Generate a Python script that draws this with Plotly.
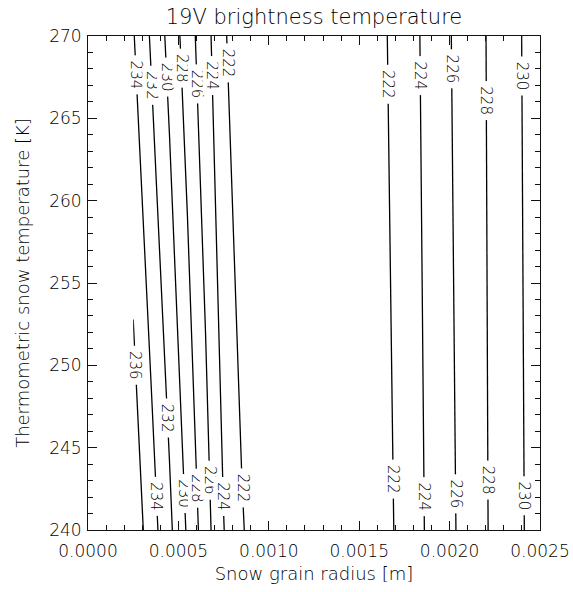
import numpy as np
import plotly.graph_objects as go

# Snow grain radius grid [m]
radius = [0.00025, 0.00035, 0.00045, 0.00055, 0.00065, 0.00075, 0.00085,
          0.00095, 0.00105, 0.00115, 0.00125, 0.00135, 0.00145, 0.00155,
          0.00165, 0.00175, 0.00185, 0.00195, 0.00205, 0.00215, 0.00225,
          0.00235, 0.00245, 0.0025]

# Thermometric snow temperature grid [K]
snow_temp = [240.0, 270.0]

# 19V brightness temperature [K] at 240 K snow temperature
tb_240 = [237.38, 234.91, 232.44, 229.76, 226.86, 224.06, 222.25,
          220.50, 219.90, 219.60, 219.60, 219.80, 220.20, 220.80,
          221.50, 222.71, 223.88, 225.03, 226.17, 227.32, 228.40,
          229.38, 230.36, 230.85]

# 19V brightness temperature [K] at 270 K snow temperature
tb_270 = [234.14, 231.75, 229.41, 226.99, 224.71, 222.39, 220.10,
          219.60, 219.40, 219.30, 219.40, 219.70, 220.20, 220.90,
          221.94, 223.05, 224.16, 225.34, 226.45, 227.48, 228.49,
          229.51, 230.52, 231.02]

# Contour levels
level_start, level_end, level_step = 222, 236, 2

# Contour label placement: level, branch of the valley, snow temperature
label_level = [234, 232, 230, 228, 226, 224, 222,
               222, 224, 226, 228, 230,
               236, 234, 232, 230, 228, 226, 224, 222,
               222, 224, 226, 228, 230]
label_branch = ["L"] * 7 + ["R"] * 5 + ["L"] * 8 + ["R"] * 5
label_temp = [267.63, 267.02, 267.52, 268.03, 267.08, 267.58, 268.34,
              267.07, 267.58, 268.03, 266.06, 267.58,
              249.98, 242.02, 246.83, 242.19, 242.53, 243.04, 242.02, 242.53,
              243.08, 242.02, 242.22, 243.04, 242.07]

FONT = "DejaVu Sans, sans-serif"
WEIGHT = 200
INK = "#111111"
TEXT = "#000000"

r = np.array(radius)
z = np.array([tb_240, tb_270])


def level_radius(level, temp, branch):
    """Radius where the brightness temperature equals `level` at `temp`."""
    t = (temp - snow_temp[0]) / (snow_temp[1] - snow_temp[0])
    row = (1 - t) * z[0] + t * z[1]
    hits = []
    for i in range(len(row) - 1):
        a, b = row[i] - level, row[i + 1] - level
        if a == 0:
            hits.append(r[i])
        elif a * b < 0:
            hits.append(r[i] + a / (a - b) * (r[i + 1] - r[i]))
    return hits[0] if branch == "L" else hits[-1]


def font(size):
    return dict(family=FONT, size=size, color=TEXT, weight=WEIGHT)


fig = go.Figure()
fig.add_trace(go.Contour(
    x=radius, y=snow_temp, z=z,
    autocontour=False,
    contours=dict(start=level_start, end=level_end, size=level_step,
                  coloring="none", showlabels=False),
    line=dict(color="black", width=1.3, smoothing=0),
    showscale=False, hoverinfo="skip",
))

annotations = []
for lev, br, tk in zip(label_level, label_branch, label_temp):
    annotations.append(dict(
        x=level_radius(lev, tk, br), y=tk, xref="x", yref="y",
        text=f" {lev} ", showarrow=False, textangle=90,
        font=font(15),
        bgcolor="white", borderpad=0,
        xanchor="center", yanchor="middle",
    ))

axis_common = dict(
    showline=True, linecolor=INK, linewidth=1,
    mirror="ticks", ticks="inside", tickcolor=INK, tickwidth=1,
    ticklen=9, showgrid=False, zeroline=False, automargin=False,
    tickfont=font(17),
)

fig.update_layout(
    width=573, height=592,
    margin=dict(l=88, r=33, t=36, b=62),
    plot_bgcolor="white", paper_bgcolor="white",
    showlegend=False,
    title=dict(text="19V brightness temperature", font=font(21),
               x=0.5, xref="paper", xanchor="center",
               y=1 - 17 / 592, yref="container", yanchor="middle"),
    xaxis=dict(range=[0, 0.0025], tickmode="linear", tick0=0, dtick=0.0005,
               tickformat=".4f", ticklabelstandoff=6,
               minor=dict(dtick=0.0001, ticks="inside", ticklen=5,
                          tickcolor=INK, tickwidth=1, showgrid=False),
               title=dict(text="Snow grain radius [m]", standoff=6,
                          font=font(18)),
               **axis_common),
    yaxis=dict(range=[240, 270], tickmode="linear", tick0=240, dtick=5,
               ticklabelstandoff=2,
               minor=dict(dtick=1, ticks="inside", ticklen=5,
                          tickcolor=INK, tickwidth=1, showgrid=False),
               title=dict(text="Thermometric snow temperature [K]", standoff=14,
                          font=font(18)),
               **axis_common),
    annotations=annotations,
)

fig.write_html("out.html")
